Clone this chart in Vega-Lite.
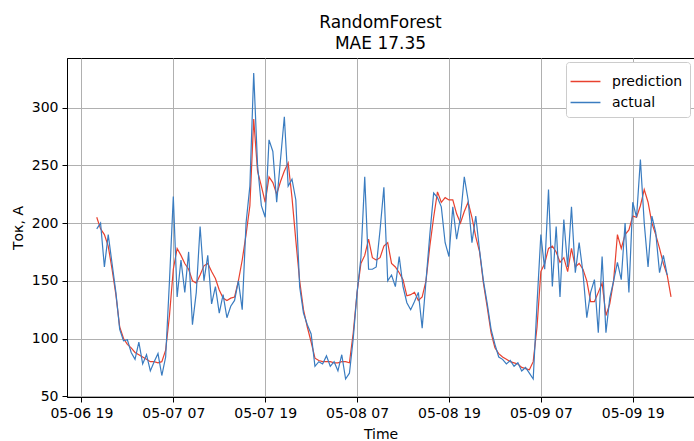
{
  "$schema": "https://vega.github.io/schema/vega-lite/v6.json",
  "width": 627,
  "height": 339,
  "autosize": {"type": "none"},
  "padding": {"left": 67, "top": 58, "right": 0, "bottom": 44},
  "background": "white",
  "title": {
    "text": ["RandomForest", "MAE 17.35"],
    "font": "DejaVu Sans",
    "fontSize": 17,
    "fontWeight": "normal",
    "color": "black",
    "lineHeight": 21,
    "offset": 5,
    "anchor": "middle"
  },
  "data": {
    "values": [
      {"t": "2021-05-06T21:00", "prediction": 205, "actual": 195},
      {"t": "2021-05-06T21:30", "prediction": 195, "actual": 200},
      {"t": "2021-05-06T22:00", "prediction": 190, "actual": 162},
      {"t": "2021-05-06T22:30", "prediction": 180, "actual": 190},
      {"t": "2021-05-06T23:00", "prediction": 160, "actual": 165},
      {"t": "2021-05-06T23:30", "prediction": 138, "actual": 140},
      {"t": "2021-05-07T00:00", "prediction": 110, "actual": 108},
      {"t": "2021-05-07T00:30", "prediction": 100, "actual": 98},
      {"t": "2021-05-07T01:00", "prediction": 95, "actual": 99},
      {"t": "2021-05-07T01:30", "prediction": 92, "actual": 88},
      {"t": "2021-05-07T02:00", "prediction": 88, "actual": 82},
      {"t": "2021-05-07T02:30", "prediction": 86, "actual": 97},
      {"t": "2021-05-07T03:00", "prediction": 84, "actual": 78},
      {"t": "2021-05-07T03:30", "prediction": 82, "actual": 86},
      {"t": "2021-05-07T04:00", "prediction": 80, "actual": 72},
      {"t": "2021-05-07T04:30", "prediction": 80, "actual": 80},
      {"t": "2021-05-07T05:00", "prediction": 79, "actual": 87},
      {"t": "2021-05-07T05:30", "prediction": 80, "actual": 68},
      {"t": "2021-05-07T06:00", "prediction": 90, "actual": 84},
      {"t": "2021-05-07T06:30", "prediction": 120, "actual": 150},
      {"t": "2021-05-07T07:00", "prediction": 160, "actual": 223},
      {"t": "2021-05-07T07:30", "prediction": 178, "actual": 136},
      {"t": "2021-05-07T08:00", "prediction": 172, "actual": 168},
      {"t": "2021-05-07T08:30", "prediction": 165, "actual": 140},
      {"t": "2021-05-07T09:00", "prediction": 160, "actual": 175},
      {"t": "2021-05-07T09:30", "prediction": 150, "actual": 112},
      {"t": "2021-05-07T10:00", "prediction": 148, "actual": 140},
      {"t": "2021-05-07T10:30", "prediction": 155, "actual": 197},
      {"t": "2021-05-07T11:00", "prediction": 163, "actual": 150},
      {"t": "2021-05-07T11:30", "prediction": 165, "actual": 172},
      {"t": "2021-05-07T12:00", "prediction": 158, "actual": 130},
      {"t": "2021-05-07T12:30", "prediction": 152, "actual": 145},
      {"t": "2021-05-07T13:00", "prediction": 142, "actual": 122},
      {"t": "2021-05-07T13:30", "prediction": 135, "actual": 138},
      {"t": "2021-05-07T14:00", "prediction": 133, "actual": 118},
      {"t": "2021-05-07T14:30", "prediction": 135, "actual": 128},
      {"t": "2021-05-07T15:00", "prediction": 136, "actual": 133},
      {"t": "2021-05-07T15:30", "prediction": 150, "actual": 150},
      {"t": "2021-05-07T16:00", "prediction": 168, "actual": 125},
      {"t": "2021-05-07T16:30", "prediction": 190, "actual": 200},
      {"t": "2021-05-07T17:00", "prediction": 215, "actual": 232},
      {"t": "2021-05-07T17:30", "prediction": 290, "actual": 330},
      {"t": "2021-05-07T18:00", "prediction": 245, "actual": 250},
      {"t": "2021-05-07T18:30", "prediction": 232, "actual": 215},
      {"t": "2021-05-07T19:00", "prediction": 218, "actual": 205},
      {"t": "2021-05-07T19:30", "prediction": 240, "actual": 272},
      {"t": "2021-05-07T20:00", "prediction": 235, "actual": 262},
      {"t": "2021-05-07T20:30", "prediction": 225, "actual": 218},
      {"t": "2021-05-07T21:00", "prediction": 236, "actual": 255},
      {"t": "2021-05-07T21:30", "prediction": 245, "actual": 292},
      {"t": "2021-05-07T22:00", "prediction": 252, "actual": 232},
      {"t": "2021-05-07T22:30", "prediction": 222, "actual": 238},
      {"t": "2021-05-07T23:00", "prediction": 185, "actual": 220},
      {"t": "2021-05-07T23:30", "prediction": 150, "actual": 145},
      {"t": "2021-05-08T00:00", "prediction": 125, "actual": 122},
      {"t": "2021-05-08T00:30", "prediction": 110, "actual": 112},
      {"t": "2021-05-08T01:00", "prediction": 97, "actual": 104},
      {"t": "2021-05-08T01:30", "prediction": 83, "actual": 76},
      {"t": "2021-05-08T02:00", "prediction": 81, "actual": 80},
      {"t": "2021-05-08T02:30", "prediction": 80, "actual": 78},
      {"t": "2021-05-08T03:00", "prediction": 80, "actual": 85},
      {"t": "2021-05-08T03:30", "prediction": 80, "actual": 76},
      {"t": "2021-05-08T04:00", "prediction": 79, "actual": 80},
      {"t": "2021-05-08T04:30", "prediction": 79, "actual": 72},
      {"t": "2021-05-08T05:00", "prediction": 80, "actual": 86},
      {"t": "2021-05-08T05:30", "prediction": 80, "actual": 65},
      {"t": "2021-05-08T06:00", "prediction": 79, "actual": 70},
      {"t": "2021-05-08T06:30", "prediction": 105, "actual": 100},
      {"t": "2021-05-08T07:00", "prediction": 140, "actual": 140},
      {"t": "2021-05-08T07:30", "prediction": 165, "actual": 170},
      {"t": "2021-05-08T08:00", "prediction": 172, "actual": 240},
      {"t": "2021-05-08T08:30", "prediction": 186, "actual": 160},
      {"t": "2021-05-08T09:00", "prediction": 170, "actual": 160},
      {"t": "2021-05-08T09:30", "prediction": 168, "actual": 162},
      {"t": "2021-05-08T10:00", "prediction": 170, "actual": 194},
      {"t": "2021-05-08T10:30", "prediction": 180, "actual": 231},
      {"t": "2021-05-08T11:00", "prediction": 183, "actual": 150},
      {"t": "2021-05-08T11:30", "prediction": 165, "actual": 155},
      {"t": "2021-05-08T12:00", "prediction": 162, "actual": 145},
      {"t": "2021-05-08T12:30", "prediction": 157, "actual": 171},
      {"t": "2021-05-08T13:00", "prediction": 151, "actual": 145},
      {"t": "2021-05-08T13:30", "prediction": 137, "actual": 131},
      {"t": "2021-05-08T14:00", "prediction": 138, "actual": 125},
      {"t": "2021-05-08T14:30", "prediction": 140, "actual": 132},
      {"t": "2021-05-08T15:00", "prediction": 133, "actual": 140},
      {"t": "2021-05-08T15:30", "prediction": 136, "actual": 109},
      {"t": "2021-05-08T16:00", "prediction": 150, "actual": 150},
      {"t": "2021-05-08T16:30", "prediction": 180, "actual": 190},
      {"t": "2021-05-08T17:00", "prediction": 205, "actual": 226},
      {"t": "2021-05-08T17:30", "prediction": 227, "actual": 222},
      {"t": "2021-05-08T18:00", "prediction": 218, "actual": 214},
      {"t": "2021-05-08T18:30", "prediction": 222, "actual": 183},
      {"t": "2021-05-08T19:00", "prediction": 220, "actual": 171},
      {"t": "2021-05-08T19:30", "prediction": 220, "actual": 214},
      {"t": "2021-05-08T20:00", "prediction": 208, "actual": 186},
      {"t": "2021-05-08T20:30", "prediction": 200, "actual": 205},
      {"t": "2021-05-08T21:00", "prediction": 210, "actual": 240},
      {"t": "2021-05-08T21:30", "prediction": 218, "actual": 220},
      {"t": "2021-05-08T22:00", "prediction": 205, "actual": 183},
      {"t": "2021-05-08T22:30", "prediction": 188, "actual": 206},
      {"t": "2021-05-08T23:00", "prediction": 175, "actual": 176},
      {"t": "2021-05-08T23:30", "prediction": 148, "actual": 150},
      {"t": "2021-05-09T00:00", "prediction": 127, "actual": 130},
      {"t": "2021-05-09T00:30", "prediction": 105, "actual": 108},
      {"t": "2021-05-09T01:00", "prediction": 92, "actual": 95},
      {"t": "2021-05-09T01:30", "prediction": 87, "actual": 84},
      {"t": "2021-05-09T02:00", "prediction": 84, "actual": 82},
      {"t": "2021-05-09T02:30", "prediction": 82, "actual": 78},
      {"t": "2021-05-09T03:00", "prediction": 80, "actual": 81},
      {"t": "2021-05-09T03:30", "prediction": 79, "actual": 76},
      {"t": "2021-05-09T04:00", "prediction": 78, "actual": 79},
      {"t": "2021-05-09T04:30", "prediction": 75, "actual": 72},
      {"t": "2021-05-09T05:00", "prediction": 74, "actual": 75},
      {"t": "2021-05-09T05:30", "prediction": 73, "actual": 70},
      {"t": "2021-05-09T06:00", "prediction": 80, "actual": 65},
      {"t": "2021-05-09T06:30", "prediction": 110, "actual": 130},
      {"t": "2021-05-09T07:00", "prediction": 158, "actual": 190},
      {"t": "2021-05-09T07:30", "prediction": 165, "actual": 160},
      {"t": "2021-05-09T08:00", "prediction": 178, "actual": 229},
      {"t": "2021-05-09T08:30", "prediction": 180, "actual": 145},
      {"t": "2021-05-09T09:00", "prediction": 175, "actual": 197},
      {"t": "2021-05-09T09:30", "prediction": 166, "actual": 136},
      {"t": "2021-05-09T10:00", "prediction": 170, "actual": 203},
      {"t": "2021-05-09T10:30", "prediction": 158, "actual": 162},
      {"t": "2021-05-09T11:00", "prediction": 178, "actual": 214},
      {"t": "2021-05-09T11:30", "prediction": 162, "actual": 157},
      {"t": "2021-05-09T12:00", "prediction": 165, "actual": 183},
      {"t": "2021-05-09T12:30", "prediction": 160, "actual": 157},
      {"t": "2021-05-09T13:00", "prediction": 150, "actual": 118},
      {"t": "2021-05-09T13:30", "prediction": 132, "actual": 140},
      {"t": "2021-05-09T14:00", "prediction": 132, "actual": 151},
      {"t": "2021-05-09T14:30", "prediction": 140, "actual": 105},
      {"t": "2021-05-09T15:00", "prediction": 148, "actual": 171},
      {"t": "2021-05-09T15:30", "prediction": 120, "actual": 105},
      {"t": "2021-05-09T16:00", "prediction": 130, "actual": 135},
      {"t": "2021-05-09T16:30", "prediction": 150, "actual": 150},
      {"t": "2021-05-09T17:00", "prediction": 190, "actual": 166},
      {"t": "2021-05-09T17:30", "prediction": 178, "actual": 151},
      {"t": "2021-05-09T18:00", "prediction": 190, "actual": 200},
      {"t": "2021-05-09T18:30", "prediction": 194, "actual": 140},
      {"t": "2021-05-09T19:00", "prediction": 206, "actual": 218},
      {"t": "2021-05-09T19:30", "prediction": 205, "actual": 205},
      {"t": "2021-05-09T20:00", "prediction": 215, "actual": 255},
      {"t": "2021-05-09T20:30", "prediction": 229, "actual": 200},
      {"t": "2021-05-09T21:00", "prediction": 218, "actual": 162},
      {"t": "2021-05-09T21:30", "prediction": 200, "actual": 206},
      {"t": "2021-05-09T22:00", "prediction": 190, "actual": 192},
      {"t": "2021-05-09T22:30", "prediction": 178, "actual": 157},
      {"t": "2021-05-09T23:00", "prediction": 165, "actual": 172},
      {"t": "2021-05-09T23:30", "prediction": 155, "actual": 155},
      {"t": "2021-05-10T00:00", "prediction": 136, "actual": null}
    ]
  },
  "transform": [{"fold": ["prediction", "actual"], "as": ["series", "value"]}],
  "mark": {"type": "line", "strokeWidth": 1.2, "clip": true},
  "encoding": {
    "x": {
      "field": "t",
      "type": "temporal",
      "title": "Time",
      "scale": {
        "domain": [
          {"year": 2021, "month": 5, "date": 6, "hours": 17, "minutes": 7},
          {"year": 2021, "month": 5, "date": 10, "hours": 3, "minutes": 0}
        ]
      },
      "axis": {
        "values": [
          {"year": 2021, "month": 5, "date": 6, "hours": 19},
          {"year": 2021, "month": 5, "date": 7, "hours": 7},
          {"year": 2021, "month": 5, "date": 7, "hours": 19},
          {"year": 2021, "month": 5, "date": 8, "hours": 7},
          {"year": 2021, "month": 5, "date": 8, "hours": 19},
          {"year": 2021, "month": 5, "date": 9, "hours": 7},
          {"year": 2021, "month": 5, "date": 9, "hours": 19}
        ],
        "format": "%m-%d %H",
        "titlePadding": 7
      }
    },
    "y": {
      "field": "value",
      "type": "quantitative",
      "title": "Ток, А",
      "scale": {"domain": [49.4, 342.9], "nice": false, "zero": false},
      "axis": {"values": [50, 100, 150, 200, 250, 300], "titlePadding": 6}
    },
    "color": {
      "field": "series",
      "type": "nominal",
      "scale": {"domain": ["prediction", "actual"], "range": ["#e8412f", "#3a7cc0"]},
      "legend": {
        "title": null,
        "orient": "top-right",
        "offset": 4,
        "fillColor": "white",
        "strokeColor": "#cccccc",
        "cornerRadius": 3,
        "padding": 7,
        "symbolType": "M-1.3,0H1.3",
        "symbolSize": 529,
        "symbolStrokeWidth": 1.5,
        "labelOffset": 14,
        "labelFont": "DejaVu Sans",
        "labelFontSize": 14,
        "labelColor": "black",
        "rowPadding": 1
      }
    }
  },
  "config": {
    "view": {"stroke": "black", "strokeWidth": 1},
    "axis": {
      "domain": true,
      "domainColor": "black",
      "tickColor": "black",
      "tickSize": 5,
      "labelPadding": 4,
      "labelFont": "DejaVu Sans",
      "labelFontSize": 14,
      "labelColor": "black",
      "titleFont": "DejaVu Sans",
      "titleFontSize": 14,
      "titleFontWeight": "normal",
      "titleColor": "black",
      "gridColor": "#b0b0b0",
      "gridWidth": 1,
      "gridOpacity": 1,
      "labelFlush": false,
      "labelOverlap": false
    }
  }
}
